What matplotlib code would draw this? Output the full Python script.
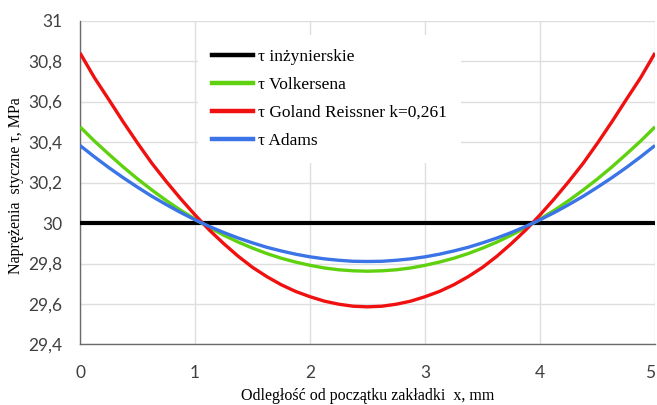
import matplotlib
matplotlib.use("Agg")
import matplotlib.pyplot as plt
from matplotlib.lines import Line2D

# Data (x step 0.125 mm)
x = [0.0, 0.125, 0.25, 0.375, 0.5, 0.625, 0.75, 0.875, 1.0, 1.125,
     1.25, 1.375, 1.5, 1.625, 1.75, 1.875, 2.0, 2.125, 2.25, 2.375,
     2.5,
     2.625, 2.75, 2.875, 3.0, 3.125, 3.25, 3.375, 3.5, 3.625, 3.75,
     3.875, 4.0, 4.125, 4.25, 4.375, 4.5, 4.625, 4.75, 4.875, 5.0]
tau_inz = [30.0] * 41
tau_volk = [30.475, 30.405, 30.340, 30.277, 30.218, 30.163, 30.111, 30.063, 30.019, 29.978,
            29.940, 29.906, 29.876, 29.849, 29.826, 29.807, 29.791, 29.778, 29.769, 29.764,
            29.762,
            29.764, 29.769, 29.778, 29.791, 29.807, 29.826, 29.849, 29.876, 29.906, 29.940,
            29.978, 30.019, 30.063, 30.111, 30.163, 30.218, 30.277, 30.340, 30.405, 30.475]
tau_gr = [30.840, 30.718, 30.610, 30.500, 30.395, 30.295, 30.205, 30.120, 30.040, 29.965,
          29.898, 29.836, 29.781, 29.735, 29.695, 29.662, 29.636, 29.614, 29.599, 29.589,
          29.586,
          29.589, 29.599, 29.614, 29.636, 29.662, 29.695, 29.735, 29.781, 29.836, 29.898,
          29.965, 30.040, 30.120, 30.205, 30.295, 30.395, 30.500, 30.610, 30.718, 30.840]
tau_adams = [30.383, 30.327, 30.274, 30.224, 30.177, 30.132, 30.091, 30.052, 30.016, 29.983,
             29.953, 29.926, 29.902, 29.880, 29.862, 29.846, 29.833, 29.823, 29.816, 29.811,
             29.810,
             29.811, 29.816, 29.823, 29.833, 29.846, 29.862, 29.880, 29.902, 29.926, 29.953,
             29.983, 30.016, 30.052, 30.091, 30.132, 30.177, 30.224, 30.274, 30.327, 30.383]

labels = ["τ inżynierskie", "τ Volkersena", "τ Goland Reissner k=0,261", "τ Adams"]
colors = ["#000000", "#5fd10f", "#f01010", "#3a74e6"]

yticks = [29.4, 29.6, 29.8, 30.0, 30.2, 30.4, 30.6, 30.8, 31.0]
ytick_labels = ["29,4", "29,6", "29,8", "30", "30,2", "30,4", "30,6", "30,8", "31"]
xticks = [0, 1, 2, 3, 4, 5]
xtick_labels = ["0", "1", "2", "3", "4", "5"]

fig = plt.figure(figsize=(6.57, 4.05), dpi=100)
ax = fig.add_axes([0.1218, 0.1494, 0.8752, 0.7998])

series = [tau_inz, tau_volk, tau_gr, tau_adams]
widths = [3.0, 2.4, 2.4, 2.4]
for s, c, lab, w in zip(series, colors, labels, widths):
    ax.plot(x, s, color=c, lw=w, label=lab, solid_capstyle="butt",
            solid_joinstyle="round", zorder=3)

ax.set_xlim(0, 5)
ax.set_ylim(29.4, 31.0)
ax.set_yticks(yticks)
ax.set_yticklabels(ytick_labels)
ax.set_xticks(xticks)
ax.set_xticklabels(xtick_labels)
ax.tick_params(length=0, labelsize=12.5, colors="#404040")
ax.tick_params(axis="y", pad=13)
ax.tick_params(axis="x", pad=15)
for lbl in ax.get_xticklabels() + ax.get_yticklabels():
    lbl.set_family("Lato")
ax.get_xticklabels()[-1].set_horizontalalignment("right")

ax.grid(True, color="#dedede", lw=1.0, zorder=0)
ax.set_axisbelow(True)
for sp in ["top", "right"]:
    ax.spines[sp].set_visible(False)
for sp in ["left", "bottom"]:
    ax.spines[sp].set_color("#6b6b6b")
    ax.spines[sp].set_linewidth(1.0)

ax.set_ylabel("Naprężenia  styczne τ, MPa", family="Liberation Serif", fontsize=11.5)
ax.yaxis.set_label_coords(-0.097, 0.49)
ax.set_xlabel("Odległość od początku zakładki  x, mm", family="Liberation Serif", fontsize=11.5)
ax.xaxis.set_label_coords(0.5, -0.135)

handles = [Line2D([0], [0], color=c, lw=3.2) for c in colors]
leg = ax.legend(handles, labels, loc="upper left", bbox_to_anchor=(0.205, 0.955),
                frameon=True, fancybox=False, facecolor="white", edgecolor="none",
                framealpha=1.0, prop={"family": "Liberation Serif", "size": 12.5},
                handlelength=2.4, handletextpad=0.25, labelspacing=0.68,
                borderpad=0.8, borderaxespad=0)
leg.set_zorder(5)

fig.savefig("out.png", dpi=100)
